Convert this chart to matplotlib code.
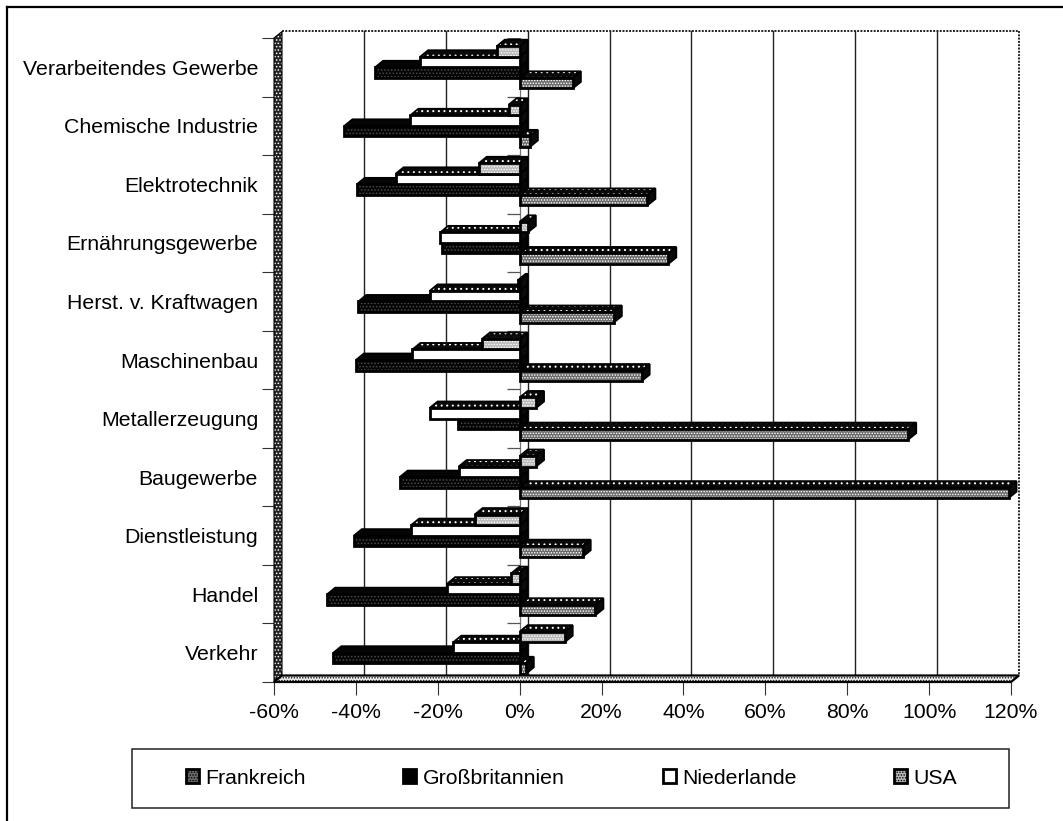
import matplotlib
matplotlib.use("Agg")
import matplotlib.pyplot as plt
from matplotlib.patches import Polygon, Rectangle, Patch
from matplotlib.lines import Line2D
from matplotlib.transforms import Affine2D

plt.rcParams['font.family'] = ['Liberation Sans', 'DejaVu Sans']
plt.rcParams['hatch.linewidth'] = 0.7

categories = ["Verarbeitendes Gewerbe", "Chemische Industrie", "Elektrotechnik",
              "Ernährungsgewerbe", "Herst. v. Kraftwagen", "Maschinenbau",
              "Metallerzeugung", "Baugewerbe", "Dienstleistung", "Handel", "Verkehr"]
frankreich = [13, 2.5, 31.2, 36.3, 23, 29.8, 94.9, 119.4, 15.4, 18.5, 1.5]
grossbritannien = [-35.3, -42.8, -39.8, -19, -39.4, -40, -15, -29.3, -40.5, -47, -45.5]
niederlande = [-24.3, -26.7, -30.3, -19.4, -22, -26.2, -22, -14.9, -26.5, -17.7, -16.2]
usa = [-5.6, -2.7, -10, 2, -0.5, -9.2, 4, 4, -11, -2, 11]
xticks = list(range(-60, 121, 20))
legend_labels = ["Frankreich", "Großbritannien", "Niederlande", "USA"]

W, H = 1063, 821
DX, DY = 8.0, 6.5
FS = 15.3
fig = plt.figure(figsize=(W / 100, H / 100), dpi=100)
ax = fig.add_axes([274 / W, 1 - 682 / H, 737 / W, 644 / H])
ax.set_xlim(-60, 120)
ax.set_ylim(10.5, -0.5)
ax.patch.set_alpha(0)
for s in ax.spines.values():
    s.set_visible(False)

depth = ax.transData + Affine2D().translate(DX, DY)


def F(x, y):
    return tuple(ax.transData.transform((x, y)))


def B(x, y):
    return tuple(depth.transform((x, y)))


def face(points, fc, ec='black', hatch=None, hatch_c='white', lw=1.3, z=3):
    if hatch:
        ax.add_patch(Polygon(points, closed=True, transform=None, facecolor=fc,
                             edgecolor=hatch_c, hatch=hatch, lw=0, zorder=z, clip_on=False))
        ax.add_patch(Polygon(points, closed=True, transform=None, fill=False,
                             edgecolor=ec, lw=lw, zorder=z, clip_on=False))
    else:
        ax.add_patch(Polygon(points, closed=True, transform=None, facecolor=fc,
                             edgecolor=ec, lw=lw, zorder=z, clip_on=False))


# back wall grid, side wall and floor
for t in xticks[1:]:
    ls = (0, (1, 0.7)) if t == 120 else '-'
    ax.plot([t, t], [-0.5, 10.5], transform=depth, color='#222222', lw=1.0 if t < 120 else 1.4,
            ls=ls, zorder=1, clip_on=False)
ax.plot([-60, 120], [-0.5, -0.5], transform=depth, color='#222222', lw=1.4,
        ls=(0, (1, 0.7)), zorder=1, clip_on=False)
face([F(-60, -0.5), B(-60, -0.5), B(-60, 10.5), F(-60, 10.5)], '#222222', hatch='.....', lw=0.8, z=2)
face([F(-60, 10.5), B(-60, 10.5), B(120, 10.5), F(120, 10.5)], '#f0f0f0', hatch='......',
     hatch_c='#111111', lw=1.6, z=2)

# zero plane at the front, with its short ticks
ax.plot([0, 0], [-0.5, 10.5], color='#777777', lw=0.9, zorder=1.5)
ax.hlines([i - 0.5 for i in range(len(categories))], -3, 0, color='#555555', lw=0.9, zorder=1.5)

# bars: bottom series first, so upper bars overlap the depth faces beneath them
styles = [
    (frankreich, '#6a6a6a', '......', 'white', '#0a0a0a', '...'),
    (grossbritannien, '#050505', '.....', '#4a4a4a', '#050505', None),
    (niederlande, 'white', None, 'black', '#0a0a0a', '...'),
    (usa, '#b8b8b8', '......', 'white', '#0a0a0a', '...'),
]
BAR = 0.18
offsets = [1.5 * BAR, 0.5 * BAR, -0.5 * BAR, -1.5 * BAR]
for k, (vals, fc, hatch, hc, dark, top_hatch) in enumerate(styles):
    for i, v in enumerate(vals):
        y0 = i + offsets[k] - BAR / 2
        y1 = i + offsets[k] + BAR / 2
        lo, hi = min(v, 0), max(v, 0)
        z = 3 + k * 0.1
        face([F(lo, y0), B(lo, y0), B(hi, y0), F(hi, y0)], dark, hatch=top_hatch, z=z)
        face([F(hi, y0), B(hi, y0), B(hi, y1), F(hi, y1)], dark, z=z)
        face([F(lo, y0), F(hi, y0), F(hi, y1), F(lo, y1)], fc, hatch=hatch, hatch_c=hc, lw=2.0, z=z + 0.01)

ax.set_xticks(xticks)
ax.set_xticklabels([f"{t}%" for t in xticks], fontsize=FS)
ax.set_yticks(range(len(categories)))
ax.set_yticklabels(categories, fontsize=FS)
ax.set_yticks([i - 0.5 for i in range(len(categories) + 1)], minor=True)
ax.tick_params(axis='y', which='major', length=0, pad=11.5)
ax.tick_params(axis='y', which='minor', length=8.6, width=0.8, color='#333333')
ax.tick_params(axis='x', length=9.4, width=0.8, pad=5.5, color='#333333')

# page frame: only the top and left rules are on the sheet
fig.add_artist(Line2D([7 / W, 1], [1 - 7 / H, 1 - 7 / H], transform=fig.transFigure, color='black', lw=1.6))
fig.add_artist(Line2D([7 / W, 7 / W], [0, 1 - 7 / H], transform=fig.transFigure, color='black', lw=1.6))

# legend box
fig.add_artist(Rectangle((132 / W, 1 - 808 / H), 877 / W, 59 / H, transform=fig.transFigure,
                         facecolor='white', edgecolor='#222222', lw=1.1))
handles = [
    Patch(facecolor='#6a6a6a', edgecolor='black', hatch='......', lw=2.0),
    Patch(facecolor='black', edgecolor='black', lw=2.0),
    Patch(facecolor='white', edgecolor='black', lw=2.0),
    Patch(facecolor='#b8b8b8', edgecolor='black', hatch='......', lw=2.0),
]
leg = fig.legend(handles, legend_labels, ncol=4, loc='center',
                 bbox_to_anchor=(571.5 / W, 1 - 778 / H), fontsize=FS,
                 frameon=False, columnspacing=4.6, handlelength=0.62, handleheight=0.62,
                 handletextpad=0.3, borderpad=0, borderaxespad=0)
leg.set_zorder(5)

fig.savefig("out.png", dpi=100)
